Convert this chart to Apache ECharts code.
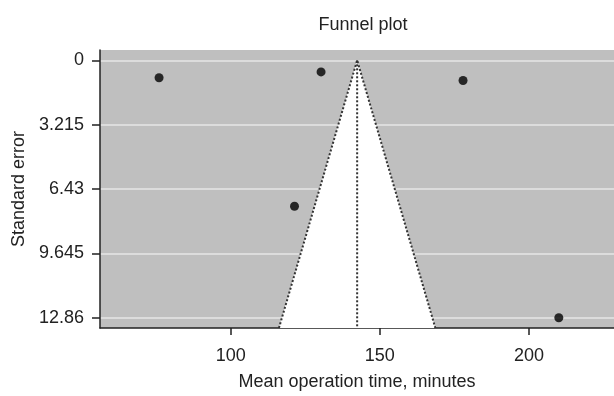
<!DOCTYPE html>
<html>
<head>
<meta charset="utf-8">
<script src="https://cdn.jsdelivr.net/npm/echarts@6/dist/echarts.min.js"></script>
<style>
  html, body { margin: 0; padding: 0; background: #fff; }
  #chart { width: 614px; height: 396px; }
</style>
</head>
<body>
<div id="chart"></div>
<script>
// study data
const meanTime = [76.0, 130.3, 177.9, 121.4, 210.0];
const stdError = [0.87, 0.58, 1.01, 7.29, 12.86];

const pooledMean = 142.4;
const zCrit = 1.96;

const xTicks = [100, 150, 200];
const yTicks = [0, 3.215, 6.43, 9.645, 12.86];

const xMin = 56.2, xMax = 228.5;
const yMin = -0.514, yMax = 13.374;

const points = meanTime.map((m, i) => [m, stdError[i]]);
const funnelEdge = [
  [pooledMean - zCrit * yMax, yMax],
  [pooledMean, 0],
  [pooledMean + zCrit * yMax, yMax]
];

const chart = echarts.init(document.getElementById('chart'));
const font = 'Liberation Sans, Arial, sans-serif';

const option = {
  animation: false,
  title: {
    text: 'Funnel plot',
    left: 358, top: 11, textAlign: 'center',
    textStyle: { fontFamily: font, fontSize: 18, fontWeight: 'normal', color: '#222' }
  },
  grid: {
    left: 100, top: 50, right: 0, bottom: 67,
    show: true, backgroundColor: '#bfbfbf', borderWidth: 0
  },
  xAxis: {
    type: 'value', min: xMin, max: xMax,
    name: 'Mean operation time, minutes', nameLocation: 'middle', nameGap: 45,
    nameTextStyle: { fontFamily: font, fontSize: 18, color: '#222' },
    axisLine: { show: true, onZero: false, lineStyle: { color: '#222', width: 1.5 } },
    axisTick: { show: true, length: 7, customValues: xTicks, lineStyle: { color: '#222', width: 1.5 } },
    axisLabel: { customValues: xTicks, fontFamily: font, fontSize: 18, color: '#222', margin: 19 },
    splitLine: { show: false }
  },
  yAxis: {
    type: 'value', min: yMin, max: yMax, inverse: true,
    name: 'Standard error', nameLocation: 'middle', nameGap: 71, nameRotate: 90,
    nameTextStyle: { fontFamily: font, fontSize: 18, color: '#222' },
    axisLine: { show: true, onZero: false, lineStyle: { color: '#222', width: 1.5 } },
    axisTick: { show: true, length: 8, customValues: yTicks, lineStyle: { color: '#222', width: 1.5 } },
    axisLabel: { customValues: yTicks, fontFamily: font, fontSize: 18, color: '#222', margin: 16 },
    splitLine: { show: true, lineStyle: { color: '#e6e6e6', width: 1.5 } }
  },
  series: [
    {
      type: 'custom',
      silent: true,
      data: [0],
      renderItem: (params, api) => ({
        type: 'polygon',
        shape: { points: funnelEdge.map(p => api.coord(p)) },
        style: { fill: '#ffffff' }
      }),
      z: 1
    },
    {
      type: 'line',
      data: funnelEdge,
      symbol: 'none',
      lineStyle: { color: '#333', width: 2, type: [2, 2] },
      z: 2
    },
    {
      type: 'line',
      data: [[pooledMean, 0], [pooledMean, yMax]],
      symbol: 'none',
      lineStyle: { color: '#333', width: 2, type: [2, 2] },
      z: 2
    },
    {
      type: 'scatter',
      data: points,
      symbolSize: 9,
      itemStyle: { color: '#000' },
      z: 3
    }
  ]
};

chart.setOption(option);
</script>
</body>
</html>
